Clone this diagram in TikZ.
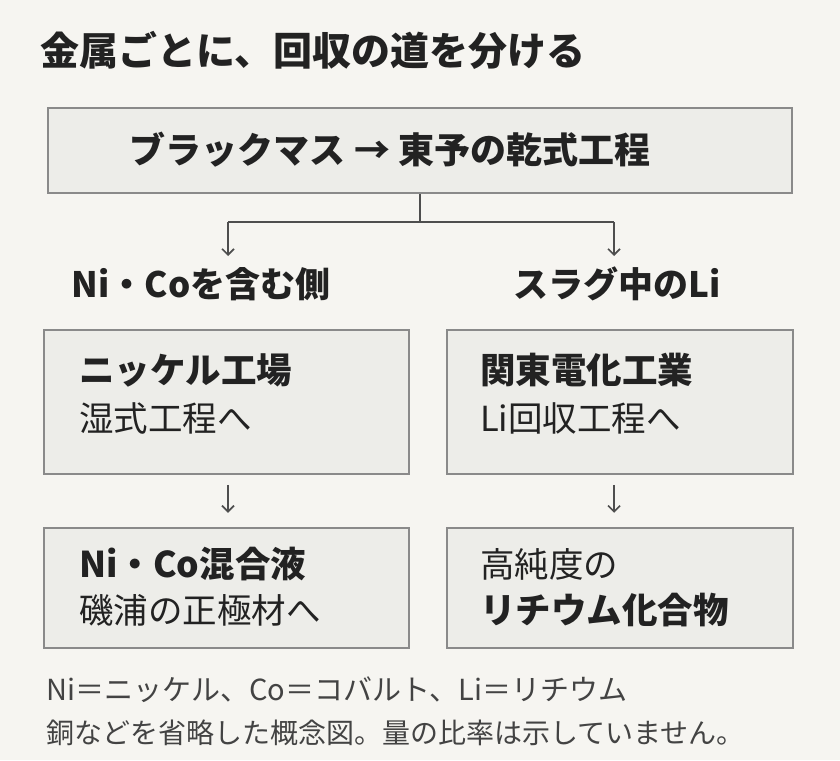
\documentclass[tikz,border=0pt]{standalone}
\usepackage{fontspec}
\setmainfont{Noto Sans CJK JP}
\usetikzlibrary{arrows.meta}
\definecolor{bg}{HTML}{F6F5F1}
\definecolor{boxf}{HTML}{EDEDE9}
\definecolor{boxd}{HTML}{8A8A8A}
\definecolor{ink}{HTML}{222222}
\begin{document}
\begin{tikzpicture}[x=1pt,y=-1pt,
  box/.style={draw=boxd,fill=boxf,line width=1.5pt},
  conn/.style={draw=ink!80,line width=1.6pt},
  arr/.style={conn,-{Straight Barb[length=6pt,width=12pt]}},
  txt/.style={text=ink,anchor=west,inner sep=0pt},
  big/.style={font=\fontsize{34.5}{38}\selectfont},
  bbig/.style={font=\bfseries\fontsize{35.5}{38}\selectfont},
  lab/.style={text=ink,inner sep=0pt,font=\bfseries\fontsize{35}{38}\selectfont}]
\fill[bg] (0,0) rectangle (840,760);
\useasboundingbox (0,0) rectangle (840,760);
\node[txt,font=\bfseries\fontsize{39}{42}\selectfont] (title) at (40,50) {金属ごとに、回収の道を分ける};
\node[box,minimum width=744pt,minimum height=85pt,inner sep=0pt] (top) at (420,150.5) {};
\node[lab,font=\bfseries\fontsize{36}{40}\selectfont] (toptxt) at (390,150) {ブラックマス → 東予の乾式工程};
\coordinate (j) at (420,222);
\coordinate (jl) at (228,222);
\coordinate (jr) at (614,222);
\node[lab] (ll) at (201,284) {Ni・Coを含む側};
\node[lab] (rl) at (617,284) {スラグ中のLi};
\draw[conn] (top.south -| j) -- (j);
\draw[conn] (jl) -- (jr);
\draw[arr] (jl) -- (228,256);
\draw[arr] (jr) -- (614,256);
\node[box,minimum width=365pt,minimum height=144pt,inner sep=0pt] (b1) at (226.5,402) {};
\node[box,minimum width=346pt,minimum height=144pt,inner sep=0pt] (b2) at (620,402) {};
\node[box,minimum width=365pt,minimum height=120pt,inner sep=0pt] (b3) at (226.5,588) {};
\node[box,minimum width=346pt,minimum height=120pt,inner sep=0pt] (b4) at (620,588) {};
\node[txt,bbig] (t1a) at (79,370) {ニッケル工場};
\node[txt,big] (t1b) at (79,418) {湿式工程へ};
\node[txt,bbig] (t2a) at (480,370) {関東電化工業};
\node[txt,big] (t2b) at (480,418) {Li回収工程へ};
\node[txt,bbig] (t3a) at (79,564) {Ni・Co混合液};
\node[txt,big] (t3b) at (79,610) {磯浦の正極材へ};
\node[txt,big] (t4a) at (480,564) {高純度の};
\node[txt,bbig] (t4b) at (480,610) {リチウム化合物};
\draw[arr] (b1.south -| 228,0) ++(0,10) -- ++(0,28);
\draw[arr] (b2.south -| 614,0) ++(0,10) -- ++(0,28);
\node[txt,font=\fontsize{29}{32}\selectfont,text=ink!85] (n1) at (46,690) {Ni＝ニッケル、Co＝コバルト、Li＝リチウム};
\node[txt,font=\fontsize{28}{32}\selectfont,text=ink!85] (n2) at (46,733) {銅などを省略した概念図。量の比率は示していません。};
\end{tikzpicture}
\end{document}
